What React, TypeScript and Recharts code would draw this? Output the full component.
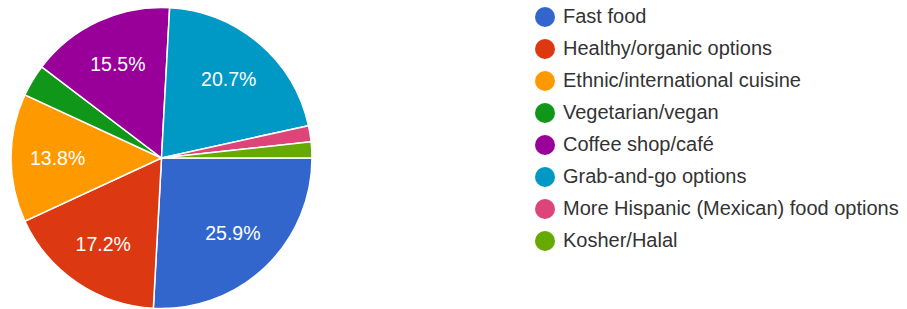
import React from 'react';
import { PieChart, Pie, Cell, Legend } from 'recharts';

const categories = [
  'Fast food',
  'Healthy/organic options',
  'Ethnic/international cuisine',
  'Vegetarian/vegan',
  'Coffee shop/café',
  'Grab-and-go options',
  'More Hispanic (Mexican) food options',
  'Kosher/Halal',
];
const counts = [15, 10, 8, 2, 9, 12, 1, 1];
const colors = ['#3366cc', '#dc3912', '#ff9900', '#109618', '#990099', '#0099c6', '#dd4477', '#66aa00'];

const data = categories.map((name, i) => ({ name, value: counts[i] }));
const FONT = '"Liberation Sans", Arial, sans-serif';
const RAD = Math.PI / 180;

const renderLabel = (props: any) => {
  const { cx, cy, midAngle, outerRadius, percent } = props;
  if (percent < 0.05) return null;
  const r = outerRadius * 0.69;
  const x = cx + r * Math.cos(-midAngle * RAD);
  const y = cy + r * Math.sin(-midAngle * RAD);
  return (
    <text x={x} y={y} fill="#ffffff" textAnchor="middle" dominantBaseline="central" fontSize={19.5} fontFamily={FONT}>
      {(percent * 100).toFixed(1) + '%'}
    </text>
  );
};

const renderLegend = () => {
  return (
    <div style={{ fontFamily: FONT, fontSize: 20, color: '#333333' }}>
      {categories.map((name, i) => (
        <div key={name} style={{ height: 32, display: 'flex', alignItems: 'center', whiteSpace: 'nowrap' }}>
          <span style={{ display: 'inline-block', width: 20, height: 20, borderRadius: 10, background: colors[i], marginRight: 8.5 }} />
          <span>{name}</span>
        </div>
      ))}
    </div>
  );
};

export default function App() {
  return (
    <div style={{ position: 'absolute', left: 0, top: 0, width: 907, height: 309, background: '#ffffff' }}>
      <PieChart width={907} height={309} margin={{ top: 0, right: 0, bottom: 0, left: 0 }}>
        <Pie
          data={data}
          dataKey="value"
          nameKey="name"
          cx={161.5}
          cy={158}
          outerRadius={150.5}
          startAngle={0}
          endAngle={-360}
          stroke="#ffffff"
          strokeWidth={1.5}
          label={renderLabel}
          labelLine={false}
          isAnimationActive={false}
        >
          {data.map((d, i) => (
            <Cell key={d.name} fill={colors[i]} />
          ))}
        </Pie>
        <Legend
          layout="vertical"
          content={renderLegend}
          wrapperStyle={{ position: 'absolute', left: 534.5, top: 0.7, width: 372 }}
        />
      </PieChart>
    </div>
  );
}
